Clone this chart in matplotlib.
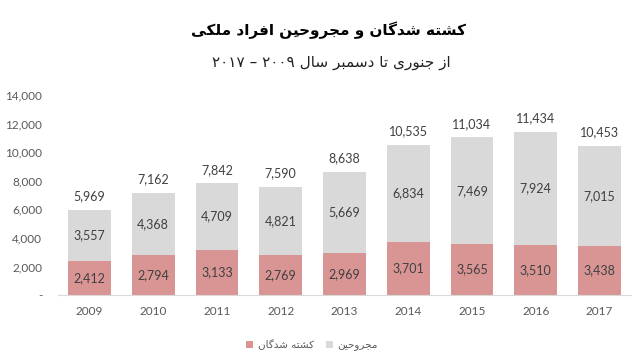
import matplotlib
matplotlib.use("Agg")
import matplotlib.pyplot as plt
import numpy as np

# Datos
years = ["2009", "2010", "2011", "2012", "2013", "2014", "2015", "2016", "2017"]
killed = [2412, 2794, 3133, 2769, 2969, 3701, 3565, 3510, 3438]
wounded = [3557, 4368, 4709, 4821, 5669, 6834, 7469, 7924, 7015]
y_ticks = [0, 2000, 4000, 6000, 8000, 10000, 12000, 14000]
y_tick_labels = ["-", "2,000", "4,000", "6,000", "8,000", "10,000", "12,000", "14,000"]

title = "کشته شدگان و مجروحینِ افراد ملکی"
subtitle = "از جنوری تا دسمبر سال ۲۰۰۹ – ۲۰۱۷"
label_killed = "کشته شدگان"
label_wounded = "مجروحین"

PINK = "#D99594"
GRAY = "#D9D9D9"

# Formas contextuales (aislada, final, inicial, media)
FORMS = {
    "\u0627": ("\uFE8D", "\uFE8E"),
    "\u062F": ("\uFEA9", "\uFEAA"),
    "\u0631": ("\uFEAD", "\uFEAE"),
    "\u0632": ("\uFEAF", "\uFEB0"),
    "\u0648": ("\uFEED", "\uFEEE"),
    "\u0628": ("\uFE8F", "\uFE90", "\uFE91", "\uFE92"),
    "\u062A": ("\uFE95", "\uFE96", "\uFE97", "\uFE98"),
    "\u062C": ("\uFE9D", "\uFE9E", "\uFE9F", "\uFEA0"),
    "\u062D": ("\uFEA1", "\uFEA2", "\uFEA3", "\uFEA4"),
    "\u0633": ("\uFEB1", "\uFEB2", "\uFEB3", "\uFEB4"),
    "\u0634": ("\uFEB5", "\uFEB6", "\uFEB7", "\uFEB8"),
    "\u0641": ("\uFED1", "\uFED2", "\uFED3", "\uFED4"),
    "\u0644": ("\uFEDD", "\uFEDE", "\uFEDF", "\uFEE0"),
    "\u0645": ("\uFEE1", "\uFEE2", "\uFEE3", "\uFEE4"),
    "\u0646": ("\uFEE5", "\uFEE6", "\uFEE7", "\uFEE8"),
    "\u0647": ("\uFEE9", "\uFEEA", "\uFEEB", "\uFEEC"),
    "\u06A9": ("\uFB8E", "\uFB8F", "\uFB90", "\uFB91"),
    "\u06AF": ("\uFB92", "\uFB93", "\uFB94", "\uFB95"),
    "\u06CC": ("\uFBFC", "\uFBFD", "\uFBFE", "\uFBFF"),
}


def is_mark(c):
    return "\u064B" <= c <= "\u065F"


# Función para dar forma y orden visual al texto persa
def farsi(text):
    chars = list(text.replace("\u0643", "\u06A9").replace("\u064A", "\u06CC"))

    def neighbor(i, step):
        j = i + step
        while 0 <= j < len(chars) and is_mark(chars[j]):
            j += step
        return chars[j] if 0 <= j < len(chars) else None

    out = []
    for i, c in enumerate(chars):
        forms = FORMS.get(c)
        if forms is None:
            out.append(c)
            continue
        p = neighbor(i, -1)
        n = neighbor(i, 1)
        join_prev = p in FORMS and len(FORMS[p]) == 4
        join_next = len(forms) == 4 and n in FORMS
        if join_prev and join_next:
            out.append(forms[3])
        elif join_prev:
            out.append(forms[1])
        elif join_next:
            out.append(forms[2])
        else:
            out.append(forms[0])

    units = []
    for c in out:
        if is_mark(c) and units:
            units[-1] += c
        elif c.isdigit() and units and units[-1][-1].isdigit():
            units[-1] += c
        else:
            units.append(c)
    return "".join(reversed(units))


plt.rcParams["font.family"] = ["Lato", "DejaVu Sans"]

fig = plt.figure(figsize=(6.4, 3.6), dpi=100)
ax = fig.add_axes([57.6 / 640, 65 / 360, 573.75 / 640, 200 / 360])

x = np.arange(len(years))
totals = [k + w for k, w in zip(killed, wounded)]
ax.bar(x, killed, width=0.67, color=PINK, label=farsi(label_killed))
ax.bar(x, wounded, width=0.67, bottom=killed, color=GRAY, label=farsi(label_wounded))

for i in range(len(years)):
    ax.text(x[i], killed[i] / 2, f"{killed[i]:,}", ha="center", va="center",
            fontsize=9, color="#404040")
    ax.text(x[i], killed[i] + wounded[i] / 2, f"{wounded[i]:,}", ha="center",
            va="center", fontsize=9, color="#404040")
    ax.annotate(f"{totals[i]:,}", (x[i], totals[i]), xytext=(0, 9.5),
                textcoords="offset points", ha="center", va="center",
                fontsize=9, color="#404040")

ax.set_xlim(-0.5, len(years) - 0.5)
ax.set_ylim(0, 14000)
ax.set_xticks(x)
ax.set_xticklabels(years)
ax.set_yticks(y_ticks)
ax.set_yticklabels(y_tick_labels)
ax.tick_params(axis="x", length=0, pad=8, labelsize=8.5, labelcolor="#595959")
ax.tick_params(axis="y", length=0, pad=11, labelsize=8.5, labelcolor="#595959")
for s in ["top", "right", "left"]:
    ax.spines[s].set_visible(False)
ax.spines["bottom"].set_color("#D9D9D9")

fig.text(0.514, 1 - 30 / 360, farsi(title), ha="center", va="center",
         fontsize=11, fontweight="bold", family="DejaVu Sans", color="black")
fig.text(0.517, 1 - 62 / 360, farsi(subtitle), ha="center", va="center",
         fontsize=11, family="DejaVu Sans", color="#222222")

fig.legend(loc="center", bbox_to_anchor=(312 / 640, 1 - 345 / 360), ncol=2,
           frameon=False, handlelength=0.7, handleheight=0.7, handletextpad=0.4,
           columnspacing=1.2, prop={"family": "DejaVu Sans", "size": 7.5},
           labelcolor="#595959")

fig.savefig("out.png", dpi=100)
